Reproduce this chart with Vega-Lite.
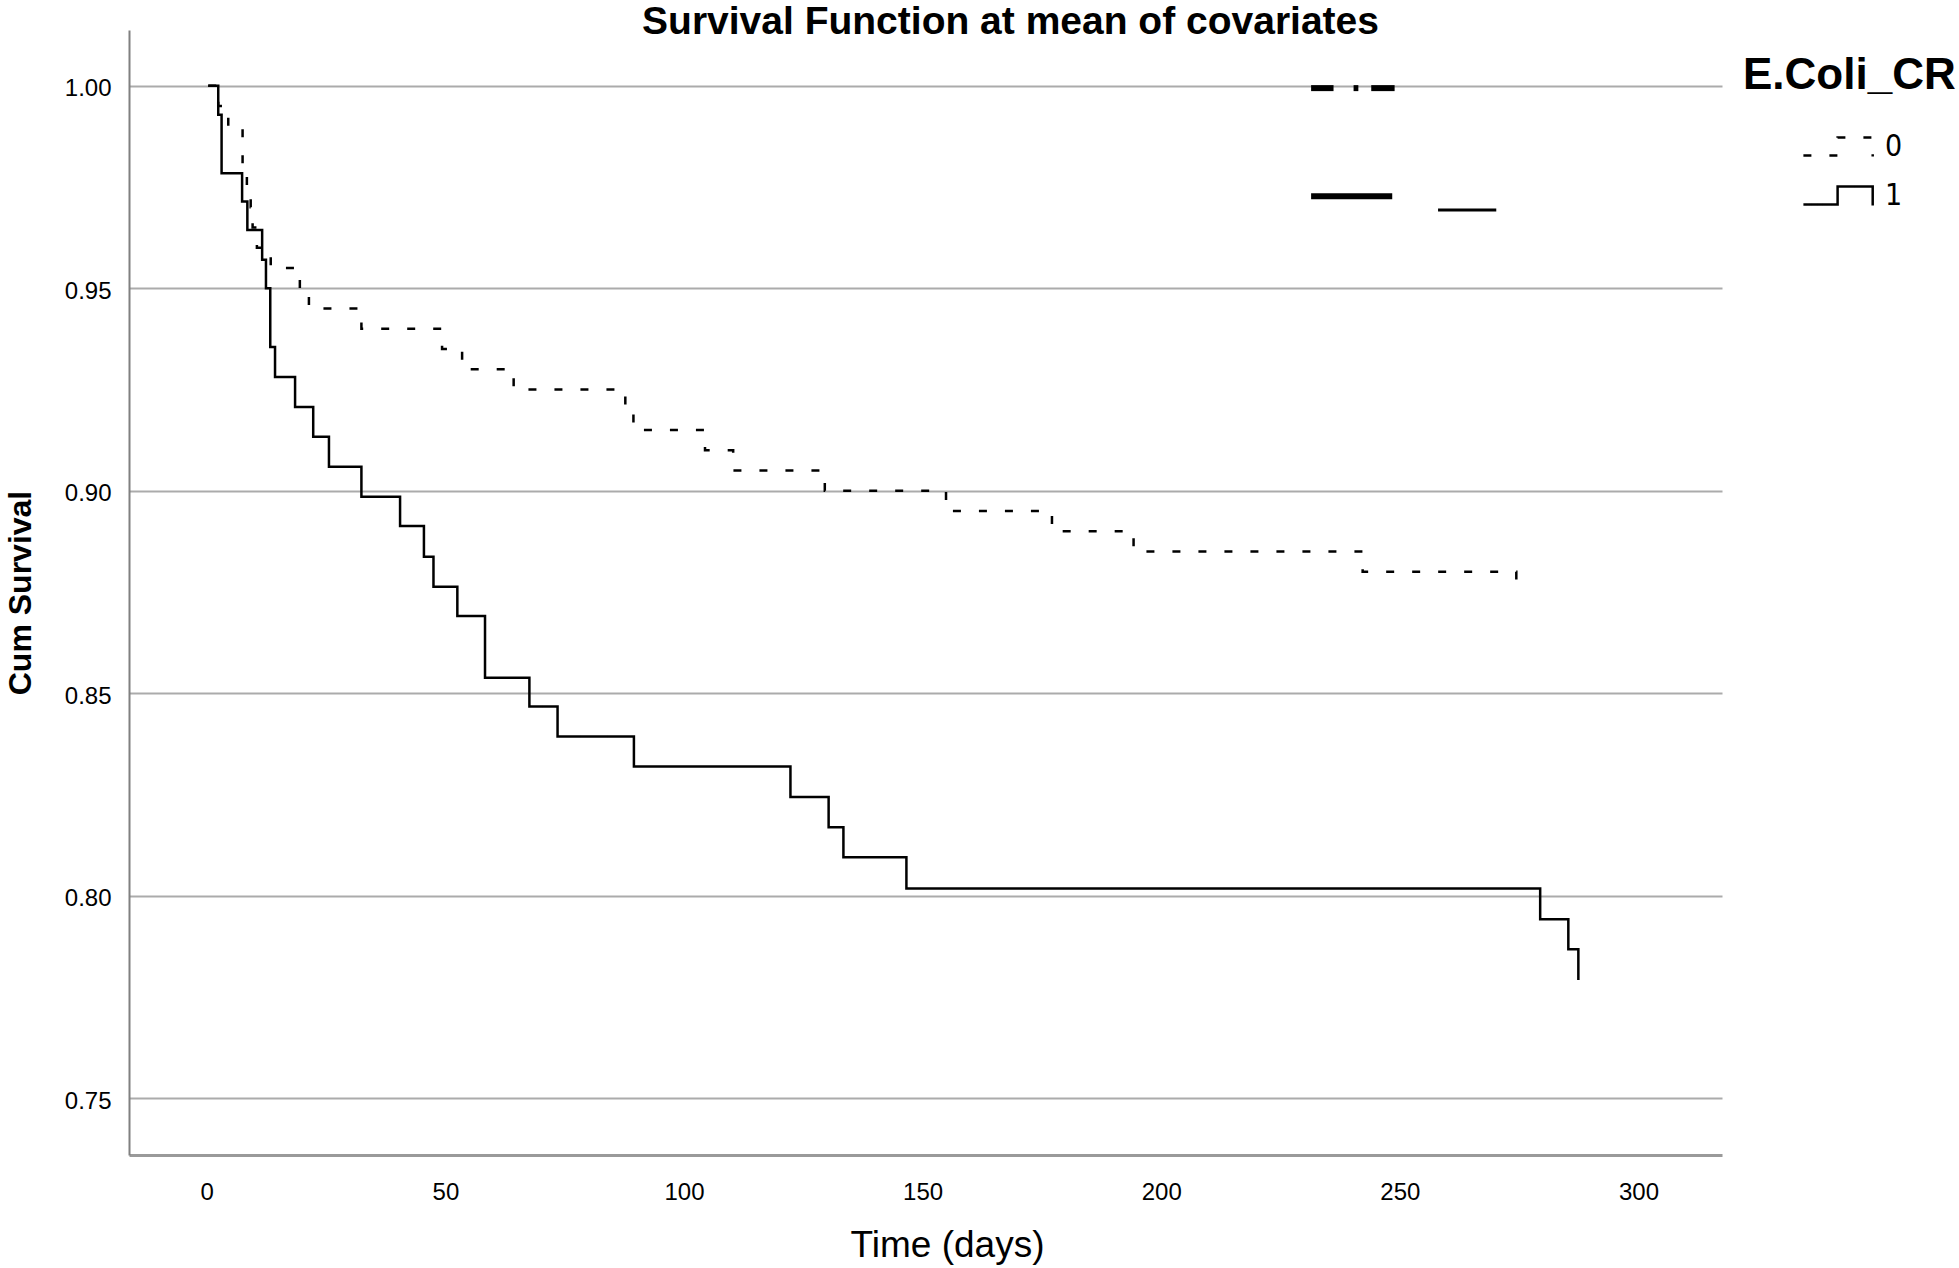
{
  "$schema": "https://vega.github.io/schema/vega-lite/v6.json",
  "width": 1593,
  "height": 1125,
  "autosize": {"type": "none"},
  "padding": {"left": 129, "top": 30, "right": 237, "bottom": 113},
  "background": "white",
  "title": {
    "text": "Survival Function at mean of covariates",
    "fontSize": 39,
    "fontWeight": "bold",
    "font": "Liberation Sans",
    "color": "#000000",
    "anchor": "middle",
    "dx": 85,
    "offset": -12
  },
  "config": {"view": {"stroke": null}, "font": "Liberation Sans"},
  "datasets": {
    "km": [
      {"group": "0", "day": 0.3, "survival": 1.0},
      {"group": "0", "day": 2.4, "survival": 0.995},
      {"group": "0", "day": 4.5, "survival": 0.99},
      {"group": "0", "day": 7.5, "survival": 0.98},
      {"group": "0", "day": 8.4, "survival": 0.975},
      {"group": "0", "day": 9.2, "survival": 0.97},
      {"group": "0", "day": 9.6, "survival": 0.965},
      {"group": "0", "day": 10.5, "survival": 0.96},
      {"group": "0", "day": 13.4, "survival": 0.955},
      {"group": "0", "day": 19.5, "survival": 0.95},
      {"group": "0", "day": 21.4, "survival": 0.945},
      {"group": "0", "day": 32.4, "survival": 0.94},
      {"group": "0", "day": 49.3, "survival": 0.935},
      {"group": "0", "day": 53.5, "survival": 0.93},
      {"group": "0", "day": 64.3, "survival": 0.925},
      {"group": "0", "day": 87.7, "survival": 0.92},
      {"group": "0", "day": 89.4, "survival": 0.915},
      {"group": "0", "day": 104.4, "survival": 0.91},
      {"group": "0", "day": 110.3, "survival": 0.905},
      {"group": "0", "day": 129.5, "survival": 0.9},
      {"group": "0", "day": 154.9, "survival": 0.895},
      {"group": "0", "day": 177.1, "survival": 0.89},
      {"group": "0", "day": 194.2, "survival": 0.885},
      {"group": "0", "day": 242.2, "survival": 0.88},
      {"group": "0", "day": 274.4, "survival": 0.877},
      {"group": "1", "day": 0.3, "survival": 1.0},
      {"group": "1", "day": 2.4, "survival": 0.9928},
      {"group": "1", "day": 3.1, "survival": 0.9784},
      {"group": "1", "day": 7.4, "survival": 0.9714},
      {"group": "1", "day": 8.5, "survival": 0.9644},
      {"group": "1", "day": 11.6, "survival": 0.957},
      {"group": "1", "day": 12.4, "survival": 0.95},
      {"group": "1", "day": 13.3, "survival": 0.9355},
      {"group": "1", "day": 14.3, "survival": 0.9281},
      {"group": "1", "day": 18.5, "survival": 0.9207},
      {"group": "1", "day": 22.3, "survival": 0.9133},
      {"group": "1", "day": 25.6, "survival": 0.9059},
      {"group": "1", "day": 32.4, "survival": 0.8985},
      {"group": "1", "day": 40.5, "survival": 0.8913},
      {"group": "1", "day": 45.5, "survival": 0.8837},
      {"group": "1", "day": 47.5, "survival": 0.8763},
      {"group": "1", "day": 52.5, "survival": 0.8691},
      {"group": "1", "day": 58.3, "survival": 0.8538},
      {"group": "1", "day": 67.6, "survival": 0.8467},
      {"group": "1", "day": 73.5, "survival": 0.8393},
      {"group": "1", "day": 89.5, "survival": 0.8319},
      {"group": "1", "day": 122.3, "survival": 0.8244},
      {"group": "1", "day": 130.3, "survival": 0.8169},
      {"group": "1", "day": 133.4, "survival": 0.8095},
      {"group": "1", "day": 146.6, "survival": 0.8018},
      {"group": "1", "day": 279.4, "survival": 0.7942},
      {"group": "1", "day": 285.3, "survival": 0.7868},
      {"group": "1", "day": 287.4, "survival": 0.7792}
    ],
    "thick": [
      {"day": 231.4, "day2": 236.1, "survival": 0.9994},
      {"day": 240.3, "day2": 241.3, "survival": 0.9994},
      {"day": 244.0, "day2": 248.9, "survival": 0.9994},
      {"day": 231.4, "day2": 248.4, "survival": 0.9727}
    ],
    "thin": [
      {"day": 258.0, "day2": 270.2, "survival": 0.9693}
    ]
  },
  "layer": [
    {
      "data": {"name": "km"},
      "mark": {"type": "line", "interpolate": "step-after", "strokeWidth": 2.5, "color": "#000000", "strokeCap": "butt"},
      "encoding": {
        "x": {
          "field": "day", "type": "quantitative",
          "scale": {"domain": [-16.3, 317.5], "nice": false, "zero": false},
          "axis": {
            "title": "Time (days)", "values": [0, 50, 100, 150, 200, 250, 300],
            "grid": false, "ticks": false, "domainColor": "#9a9a9a", "domainWidth": 3,
            "labelFontSize": 24, "labelColor": "#000000", "labelPadding": 25,
            "labelFlush": false, "labelOverlap": false,
            "titleFontSize": 37, "titleFontWeight": "normal", "titleColor": "#000000", "titlePadding": 23,
            "titleX": 818
          }
        },
        "y": {
          "field": "survival", "type": "quantitative",
          "scale": {"domain": [0.736, 1.01375], "nice": false, "zero": false},
          "axis": {
            "title": "Cum Survival", "values": [0.75, 0.8, 0.85, 0.9, 0.95, 1.0], "format": ".2f",
            "grid": true, "gridColor": "#ababab", "gridWidth": 2, "ticks": false,
            "domainColor": "#808080", "domainWidth": 2,
            "labelFontSize": 24, "labelColor": "#000000", "labelPadding": 18, "labelOffset": 3,
            "labelFlush": false, "labelOverlap": false,
            "titleFontSize": 32, "titleFontWeight": "bold", "titleColor": "#000000", "titlePadding": 27
          }
        },
        "strokeDash": {
          "field": "group", "type": "nominal",
          "scale": {"domain": ["0", "1"], "range": [[8, 18], [1, 0]]},
          "legend": {
            "orient": "none", "legendX": 1614, "legendY": 24,
            "title": "E.Coli_CR", "titleFontSize": 44, "titleFontWeight": "bold", "titleColor": "#000000",
            "titlePadding": 29, "titleLimit": 1000,
            "labelFontSize": 30, "labelFont": "DejaVu Sans Condensed, Liberation Sans, sans-serif", "labelColor": "#000000",
            "symbolType": "M-1.95,0.5H-0.05V-0.5H1.9V0.55",
            "symbolSize": 1296, "symbolStrokeWidth": 2.5, "symbolStrokeColor": "#000000",
            "symbolFillColor": "transparent",
            "symbolOffset": 76, "labelOffset": 27, "rowPadding": 14
          }
        }
      }
    },
    {
      "data": {"name": "thick"},
      "mark": {"type": "rule", "strokeWidth": 6, "color": "#000000", "strokeCap": "butt"},
      "encoding": {
        "x": {"field": "day", "type": "quantitative"},
        "x2": {"field": "day2"},
        "y": {"field": "survival", "type": "quantitative"}
      }
    },
    {
      "data": {"name": "thin"},
      "mark": {"type": "rule", "strokeWidth": 3, "color": "#000000", "strokeCap": "butt"},
      "encoding": {
        "x": {"field": "day", "type": "quantitative"},
        "x2": {"field": "day2"},
        "y": {"field": "survival", "type": "quantitative"}
      }
    }
  ]
}
